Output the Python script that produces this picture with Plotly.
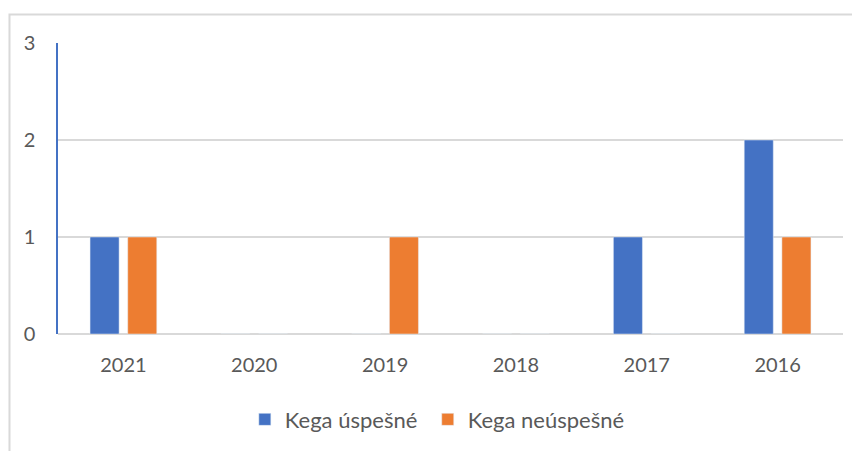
import plotly.graph_objects as go

years = ["2021", "2020", "2019", "2018", "2017", "2016"]
uspesne = [1, 0, 0, 0, 1, 2]
neuspesne = [1, 0, 1, 0, 0, 1]
series_names = ["Kega úspešné", "Kega neúspešné"]
y_ticks = [0, 1, 2, 3]

BLUE = "#4472C4"
ORANGE = "#ED7D31"
GRID = "#D9D9D9"
TEXT = "#595959"
FONT = "Lato"

fig = go.Figure()
fig.add_trace(go.Bar(x=years, y=uspesne, name=series_names[0], marker_color=BLUE,
                     offset=-0.255, width=0.222, legend="legend"))
fig.add_trace(go.Bar(x=years, y=neuspesne, name=series_names[1], marker_color=ORANGE,
                     offset=0.033, width=0.222, legend="legend2"))

# outer chart border (partially cut off by the image edges, like the reference)
fig.add_shape(type="rect", xref="paper", yref="paper",
              x0=-0.0618, x1=1.05, y0=-0.45, y1=1.098,
              line=dict(color=GRID, width=2), layer="below")

legend_common = dict(orientation="h", y=-0.294, yanchor="middle", xanchor="left",
                     font=dict(family=FONT, size=22, color=TEXT), itemwidth=30,
                     bgcolor="rgba(0,0,0,0)")

fig.update_layout(
    width=860, height=451,
    margin=dict(l=50, r=25, t=35, b=125, pad=0),
    paper_bgcolor="white", plot_bgcolor="white",
    font=dict(family=FONT, size=20, color=TEXT),
    barmode="group",
    showlegend=True,
    legend=dict(x=0.238, **legend_common),
    legend2=dict(x=0.471, **legend_common),
    xaxis=dict(type="category", categoryorder="array", categoryarray=years,
               showgrid=False, showline=False, zeroline=False, ticks="",
               ticklabelstandoff=17,
               tickfont=dict(family=FONT, size=20, color=TEXT)),
    yaxis=dict(range=[0, 3], tickvals=y_ticks, showgrid=True, gridcolor=GRID, gridwidth=1.5,
               zeroline=True, zerolinecolor=GRID, zerolinewidth=1.5,
               showline=True, linecolor=BLUE, linewidth=1.5, ticks="",
               ticklabelstandoff=17,
               tickfont=dict(family=FONT, size=20, color=TEXT)),
)

fig.write_html("out.html")
